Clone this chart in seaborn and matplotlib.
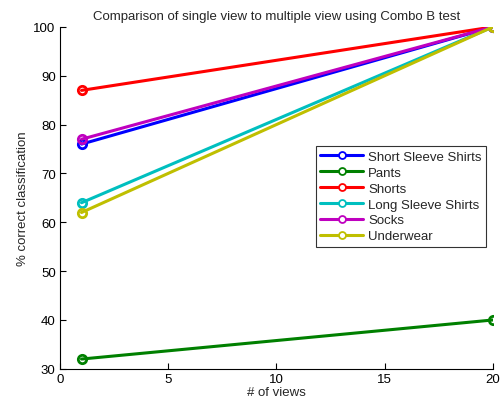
import matplotlib
matplotlib.use("Agg")
import matplotlib.pyplot as plt
import seaborn as sns
import pandas as pd

sns.set_style("ticks")
plt.rcParams['font.family'] = ['Liberation Sans', 'DejaVu Sans']

views = [1, 20]
categories = ["Short Sleeve Shirts", "Pants", "Shorts", "Long Sleeve Shirts", "Socks", "Underwear"]
short_sleeve = [76, 100]
pants = [32, 40]
shorts = [87, 100]
long_sleeve = [64, 100]
socks = [77, 100]
underwear = [62, 100]
colors = ["#0000ff", "#008000", "#ff0000", "#00bfbf", "#bf00bf", "#bfbf00"]

series = [short_sleeve, pants, shorts, long_sleeve, socks, underwear]
rows = []
for cat, vals in zip(categories, series):
    for v, y in zip(views, vals):
        rows.append({"views": v, "pct": y, "item": cat})
df = pd.DataFrame(rows)

FS = 9.5
fig = plt.figure(figsize=(5.03, 4.10), dpi=100)
ax = fig.add_axes([0.119, 0.098, 0.861, 0.834])

sns.lineplot(data=df, x="views", y="pct", hue="item", hue_order=categories,
             palette=colors, marker="o", markersize=6, markerfacecolor="none",
             markeredgewidth=2, linewidth=2.2, ax=ax, legend=True)
for line, c in zip(ax.lines, colors):
    line.set_markeredgecolor(c)
    line.set_markerfacecolor("none")

ax.set_xlim(0, 20)
ax.set_ylim(30, 100)
ax.set_xticks([0, 5, 10, 15, 20])
ax.set_yticks([30, 40, 50, 60, 70, 80, 90, 100])
ax.tick_params(direction="in", length=4, labelsize=FS, width=0.8, colors="black", pad=3)
ax.set_xlabel("# of views", fontsize=FS, labelpad=1)
ax.set_ylabel("% correct classification", fontsize=FS, labelpad=3)
ax.set_title("Comparison of single view to multiple view using Combo B test", fontsize=FS, pad=6)
for s in ["top", "right"]:
    ax.spines[s].set_visible(False)
for s in ["left", "bottom"]:
    ax.spines[s].set_linewidth(0.8)
    ax.spines[s].set_color("black")

handles, labels = ax.get_legend_handles_labels()
leg = ax.legend(handles, labels, loc="upper left", bbox_to_anchor=(0.591, 0.652),
                fontsize=FS, frameon=True, fancybox=False, edgecolor="black",
                borderpad=0.35, labelspacing=0.28, handlelength=3.2, handletextpad=0.4,
                borderaxespad=0)
leg.get_frame().set_linewidth(0.8)
for h, c in zip(leg.legend_handles, colors):
    h.set_markeredgecolor(c)
    h.set_markerfacecolor("white")
    h.set_markersize(5)
    h.set_markeredgewidth(1.3)

fig.savefig("out.png", dpi=100)
